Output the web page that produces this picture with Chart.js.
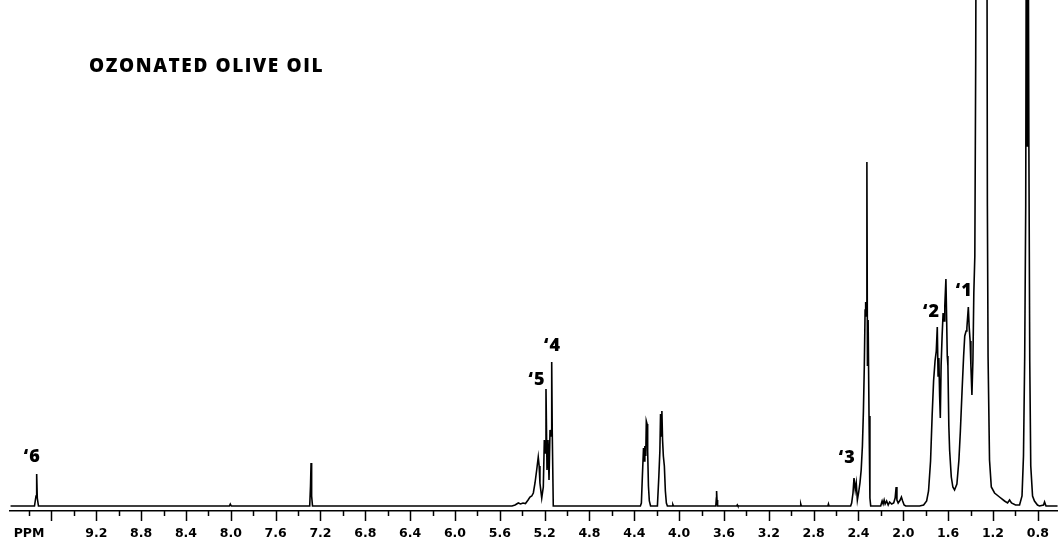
<!DOCTYPE html>
<html><head><meta charset="utf-8">
<script src="https://cdn.jsdelivr.net/npm/chart.js@4.4.1/dist/chart.umd.min.js"></script>
<style>html,body{margin:0;padding:0;background:#fff;}canvas{display:block;}</style>
</head><body>
<canvas id="c" width="1058" height="539"></canvas>
<script>
// Chemical shift (ppm) and signal height
const ppm = [
 9.965, 9.7515, 9.738, 9.732, 9.7265, 9.716,
 8.013, 8.0045, 7.9956,
 7.296, 7.289, 7.284, 7.279, 7.271,
 5.491, 5.464, 5.435, 5.415, 5.393, 5.371, 5.348, 5.331, 5.315, 5.301, 5.286, 5.271, 5.257, 5.249, 5.242,
 5.226, 5.212, 5.203, 5.194, 5.188, 5.179, 5.170, 5.161, 5.152, 5.143, 5.137, 5.132, 5.123,
 4.346, 4.337, 4.328, 4.318, 4.312, 4.306, 4.298, 4.293, 4.286, 4.281, 4.274, 4.266, 4.255,
 4.194, 4.181, 4.172, 4.166, 4.160, 4.154, 4.148, 4.141, 4.132, 4.123, 4.114, 4.105,
 4.060, 4.056, 4.050,
 3.673, 3.668, 3.666, 3.662, 3.657,
 3.486, 3.481, 3.476,
 2.920, 2.915, 2.910,
 2.673, 2.668, 2.663,
 2.470, 2.461, 2.449, 2.440, 2.429, 2.420, 2.410, 2.398, 2.387, 2.376, 2.365, 2.356, 2.348, 2.341, 2.336,
 2.330, 2.325, 2.320, 2.314, 2.306, 2.298, 2.291,
 2.256, 2.202, 2.189, 2.180, 2.171, 2.162, 2.149, 2.135, 2.122, 2.104, 2.086, 2.073, 2.064, 2.057, 2.046,
 2.028, 2.017, 2.006, 1.993, 1.979,
 1.855, 1.819, 1.792, 1.775, 1.757, 1.743, 1.730, 1.717, 1.706, 1.697, 1.690, 1.683, 1.676, 1.670,
 1.663, 1.654, 1.645, 1.636, 1.630, 1.620, 1.614, 1.608, 1.602, 1.594, 1.587, 1.572, 1.558, 1.543,
 1.522, 1.504, 1.491, 1.476, 1.462, 1.452, 1.440, 1.433, 1.420, 1.413, 1.404, 1.397, 1.388, 1.379,
 1.371, 1.362, 1.354, 1.346, 1.302, 1.257, 1.250, 1.244, 1.231, 1.215, 1.186, 1.142, 1.097, 1.070,
 1.052, 1.035, 0.999, 0.963, 0.941, 0.928, 0.917, 0.908, 0.901, 0.894, 0.888, 0.880, 0.872, 0.863,
 0.847, 0.830, 0.803, 0.785, 0.749, 0.740, 0.727, 0.624
];
const intensity = [
 0, 0, 10, 32, 8, 0,
 0, 2, 0,
 0, 20, 43, 10, 0,
 0, 1, 3, 2, 3, 2.5, 6, 9, 10, 13, 23, 36, 49, 40, 23,
 8, 19, 66, 53, 117, 36, 66, 26, 76, 70, 144, 73, 0,
 0, 3, 30, 58, 45, 60, 50, 85, 82, 55, 20, 5, 0,
 0, 30, 55, 92, 70, 95, 66, 50, 40, 15, 3, 0,
 0, 1.5, 0,
 0, 8, 15, 6, 0,
 0, 1, 0,
 0, 2, 0,
 0, 2, 0,
 0, 3, 13, 28, 16, 23, 6, 14, 23, 36, 60, 95, 140, 196, 204,
 190, 344, 140, 186, 90, 8, 0,
 0, 0, 5, 2, 6, 2, 5, 1, 4, 2, 3, 8, 19, 6, 3,
 6, 9, 5, 1, 0,
 0, 1, 5, 15, 45, 90, 125, 145, 155, 179, 130, 148, 110, 88,
 140, 170, 193, 185, 200, 227, 190, 150, 140, 80, 56, 29, 19, 16,
 22, 46, 75, 115, 150, 170, 175, 178, 199, 180, 165, 140, 111, 146,
 213, 250, 450, 800, 1500, 800, 300, 150, 46, 19, 13, 9, 5, 3,
 6, 3, 1, 1, 10, 50, 150, 300, 700, 360, 700, 366, 145, 40,
 10, 5, 1, 0, 1, 4, 0, 0
];

// Axis ticks
const tickValues = [9.8, 9.6, 9.4, 9.2, 9.0, 8.8, 8.6, 8.4, 8.2, 8.0, 7.8, 7.6, 7.4, 7.2, 7.0, 6.8, 6.6, 6.4, 6.2, 6.0,
  5.8, 5.6, 5.4, 5.2, 5.0, 4.8, 4.6, 4.4, 4.2, 4.0, 3.8, 3.6, 3.4, 3.2, 3.0, 2.8, 2.6, 2.4, 2.2, 2.0,
  1.8, 1.6, 1.4, 1.2, 1.0, 0.8];
const tickLabels = ['PPM', '', '', '9.2', '', '8.8', '', '8.4', '', '8.0', '', '7.6', '', '7.2', '', '6.8', '', '6.4', '', '6.0',
  '', '5.6', '', '5.2', '', '4.8', '', '4.4', '', '4.0', '', '3.6', '', '3.2', '', '2.8', '', '2.4', '', '2.0',
  '', '1.6', '', '1.2', '', '0.8'];
const tickKinds = ['S', 'L', 'S', 'L', 'S', 'L', 'S', 'L', 'S', 'L', 'S', 'L', 'S', 'L', 'S', 'L', 'S', 'L', 'S', 'L',
  'S', 'L', 'S', 'L', 'S', 'L', 'S', 'L', 'S', 'L', 'S', 'L', 'S', 'L', 'S', 'L', 'S', 'L', 'S', 'L',
  'S', 'L', 'S', 'L', 'S', 'L'];

// Title and peak annotations
const titleText = 'OZONATED OLIVE OIL';
const peakLabels = ['\u20186', '\u20185', '\u20184', '\u20183', '\u20182', '\u20181'];
const peakLabelPpm = [9.772, 5.268, 5.130, 2.501, 1.748, 1.456];
const peakLabelHeight = [49, 126, 160, 48, 194, 215];

const overlay = {
  id: 'overlay',
  afterDraw(chart) {
    const {ctx, chartArea} = chart;
    const xs = chart.scales.x, ys = chart.scales.y;
    ctx.save();
    ctx.strokeStyle = '#000';
    ctx.lineWidth = 1.5;
    tickValues.forEach((v, i) => {
      const px = Math.round(xs.getPixelForValue(v)) + 0.5;
      const len = tickKinds[i] === 'L' ? 10 : 5;
      ctx.beginPath();
      ctx.moveTo(px, chartArea.bottom);
      ctx.lineTo(px, chartArea.bottom + len);
      ctx.stroke();
    });
    ctx.fillStyle = '#000';
    ctx.textAlign = 'left';
    ctx.textBaseline = 'alphabetic';
    ctx.font = '800 19px "Open Sans"';
    ctx.letterSpacing = '1.6px';
    ctx.fillText(titleText, chartArea.left + 79, 72);
    ctx.font = '800 18px "Open Sans"';
    ctx.letterSpacing = '1px';
    ctx.textAlign = 'center';
    ctx.textBaseline = 'middle';
    peakLabels.forEach((t, i) => {
      ctx.fillText(t, xs.getPixelForValue(peakLabelPpm[i]), ys.getPixelForValue(peakLabelHeight[i]));
    });
    ctx.restore();
  }
};

new Chart(document.getElementById('c'), {
  type: 'line',
  data: {
    datasets: [{
      data: ppm.map((p, i) => ({x: p, y: intensity[i]})),
      borderColor: '#000',
      borderWidth: 1.6,
      pointRadius: 0,
      tension: 0,
      fill: false
    }]
  },
  options: {
    responsive: false,
    animation: false,
    devicePixelRatio: 1,
    layout: {padding: {left: 10, right: 0, top: 0, bottom: 0}},
    plugins: {legend: {display: false}, tooltip: {enabled: false}, title: {display: false}},
    scales: {
      x: {
        type: 'linear',
        reverse: true,
        min: 0.62,
        max: 9.97,
        afterBuildTicks(scale) { scale.ticks = tickValues.map(v => ({value: v})); },
        afterFit(scale) { scale.height = 28; scale.paddingLeft = 0; scale.paddingRight = 0; },
        grid: {display: false, drawTicks: false},
        border: {display: true, color: '#000', width: 1.5},
        ticks: {
          autoSkip: false,
          maxRotation: 0,
          minRotation: 0,
          padding: 15,
          color: '#000',
          font: {family: 'DejaVu Sans', weight: 'bold', size: 12.5},
          callback: (value, index) => tickLabels[index]
        }
      },
      y: {display: false, min: -5, max: 506}
    }
  },
  plugins: [overlay]
});
</script>
</body></html>
